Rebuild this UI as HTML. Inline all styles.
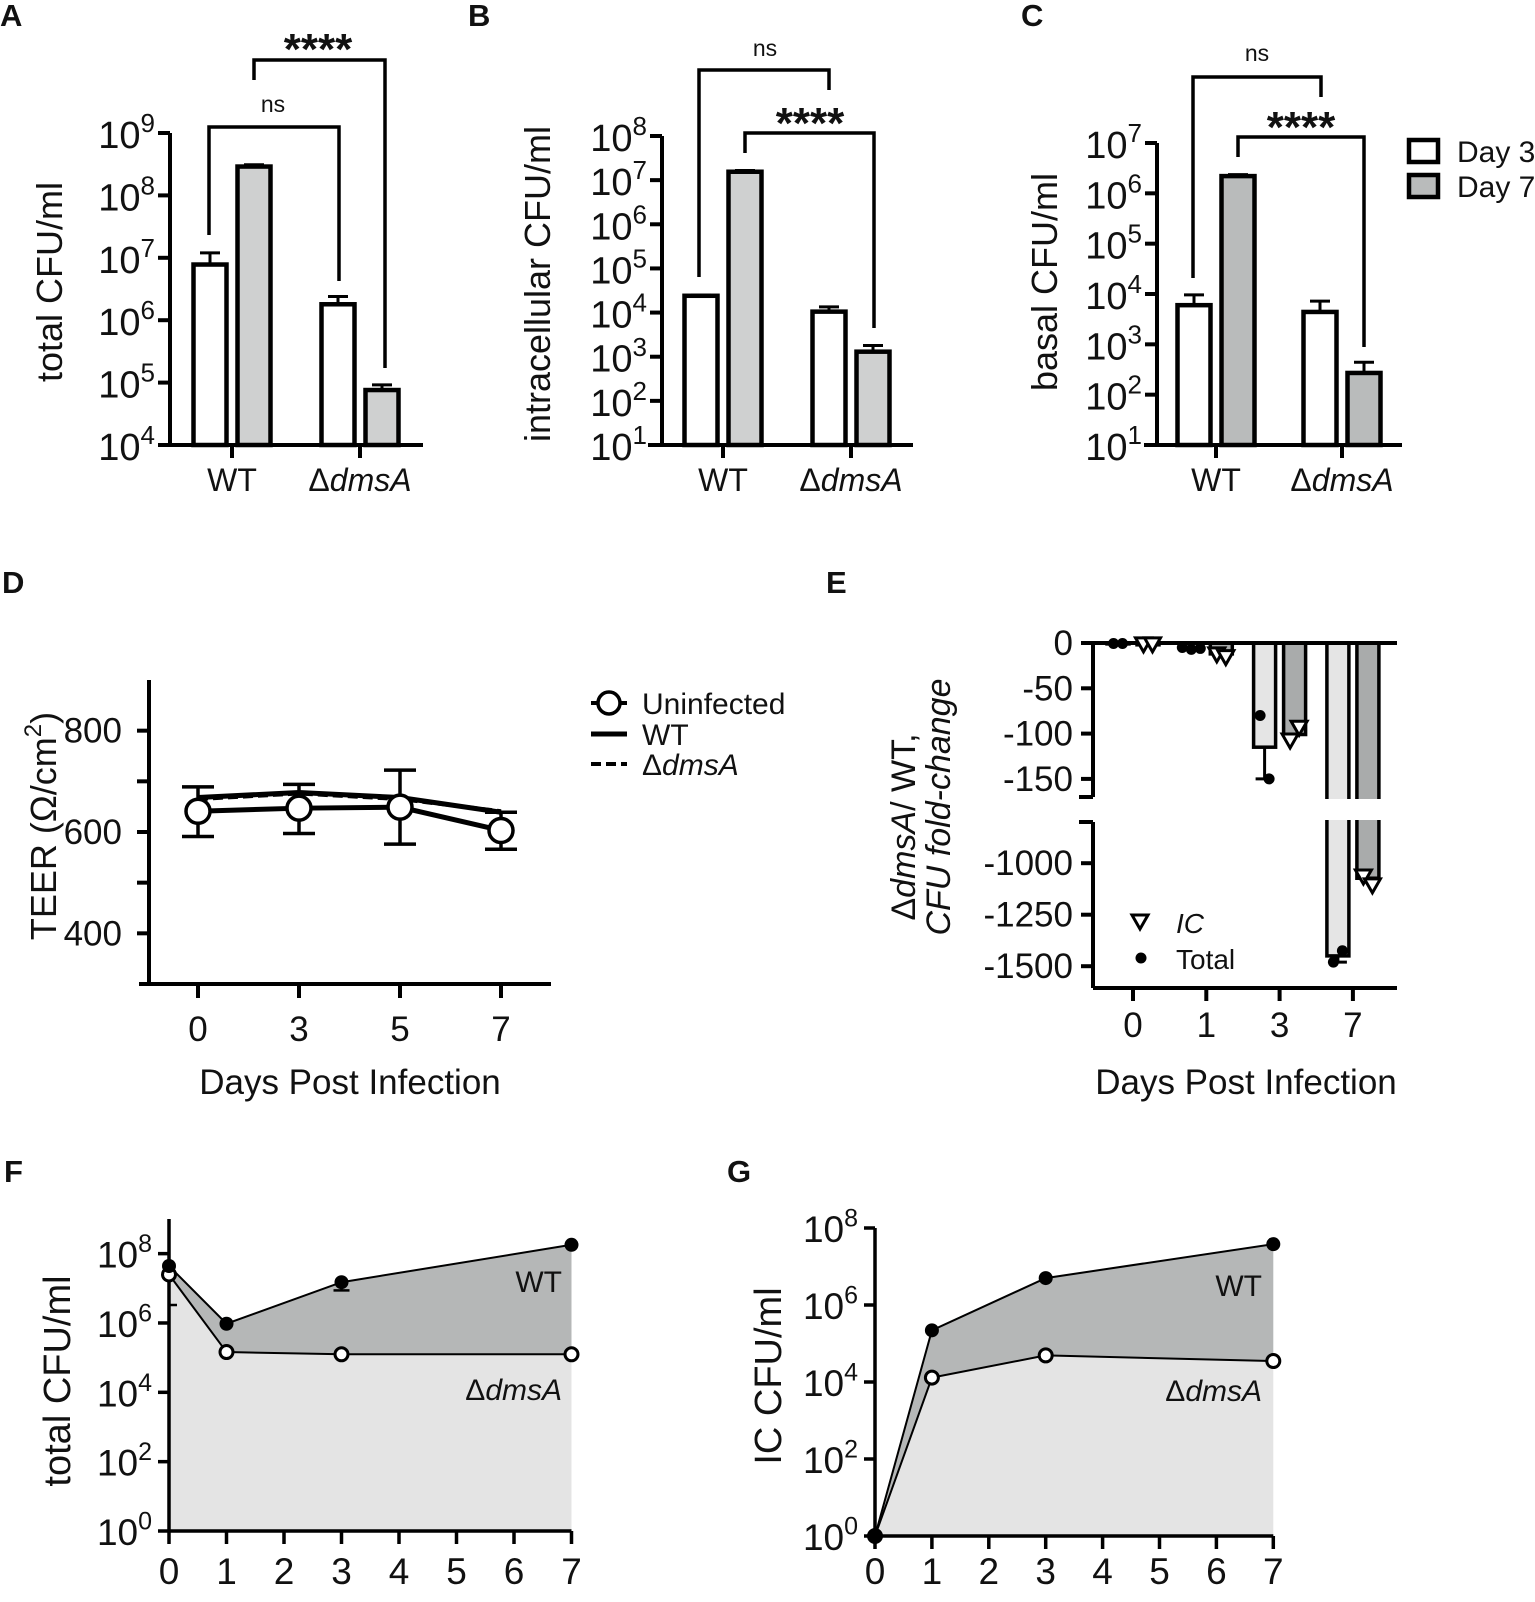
<!DOCTYPE html>
<html><head><meta charset="utf-8">
<style>
body{margin:0;background:#fff}
svg{display:block;font-family:"Liberation Sans",Arial,sans-serif}
</style></head>
<body>
<svg id="fig" width="1535" height="1602" viewBox="0 0 1535 1602"></svg>
<script>
// ---------- DATA ----------
const barGroups = ["WT", "ΔdmsA"];
const aDay3 = [7.8e6, 1.8e6];
const aDay7 = [2.9e8, 7.6e4];
const aDay3Err = [1.2e7, 2.4e6];
const aDay7Err = [3.1e8, 9.2e4];
const bDay3 = [2.4e4, 1.05e4];
const bDay7 = [1.55e7, 1.3e3];
const bDay3Err = [2.5e4, 1.35e4];
const bDay7Err = [1.65e7, 1.8e3];
const cDay3 = [6.0e3, 4.4e3];
const cDay7 = [2.2e6, 2.7e2];
const cDay3Err = [9.6e3, 7.2e3];
const cDay7Err = [2.35e6, 4.4e2];
const logTicksA = [4, 5, 6, 7, 8, 9];
const logTicksB = [1, 2, 3, 4, 5, 6, 7, 8];
const logTicksC = [1, 2, 3, 4, 5, 6, 7];

const dDays = ["0", "3", "5", "7"];
const dUninf = [641, 647, 649, 603];
const dUninfHi = [689, 694, 722, 639];
const dUninfLo = [591, 597, 576, 566];
const dWT = [668, 678, 668, 639];
const dDms = [665, 676, 665, 641];
const dTicks = [400, 600, 800];
const dMinorTicks = [500, 700];

const eDays = ["0", "1", "3", "7"];
const eTotalMean = [-1, -6, -115, -1450];
const eICMean = [-2, -12, -101, -1073];
const eTotalPts = [[-0.5, -0.5], [-5, -7, -6], [-80, -150], [-1480, -1425]];
const eICPts = [[-1, -1], [-12, -15], [-107, -93], [-1062, -1105]];
const eTotalErrLo = [null, null, -150, -1480];
const eUpperTicks = [0, -50, -100, -150];
const eLowerTicks = [-1000, -1250, -1500];

const fgDays = [0, 1, 3, 7];
const fgAxisDays = [0, 1, 2, 3, 4, 5, 6, 7];
const fWT = [4.4e7, 9.5e5, 1.5e7, 1.8e8];
const fDms = [2.5e7, 1.45e5, 1.25e5, 1.25e5];
const fWTErrLo = [null, null, 8.7e6, null];
const fDmsErrLo = [3.3e6, null, null, null];
const gWT = [1, 2.2e5, 5.0e6, 3.8e7];
const gDms = [1, 1.3e4, 4.9e4, 3.5e4];
const fgTicks = [0, 2, 4, 6, 8];

// ---------- HELPERS ----------
const NS = "http://www.w3.org/2000/svg";
const svg = document.getElementById("fig");
function el(tag, attrs, name, parent) {
  const e = document.createElementNS(NS, tag);
  for (const k in attrs) e.setAttribute(k, attrs[k]);
  
  
  (parent || svg).appendChild(e);
  return e;
}
function line(x1, y1, x2, y2, w, name, extra) {
  const a = {x1, y1, x2, y2, stroke: "#000", "stroke-width": w};
  if (extra) for (const k in extra) a[k] = extra[k];
  return el("line", a, name);
}
function txt(x, y, parts, o, name) {
  o = o || {};
  const fs = o.fs || 34;
  const a = {x, y, "font-size": fs, "text-anchor": o.a || "middle", fill: "#111"};
  if (o.w) a["font-weight"] = o.w;
  if (o.it) a["font-style"] = "italic";
  if (o.rot) a.transform = "rotate(-90 " + x + " " + y + ")";
  const t = el("text", a, name);
  if (typeof parts === "string") parts = [[parts]];
  let shifted = false;
  parts.forEach(p => {
    const ts = document.createElementNS(NS, "tspan");
    ts.textContent = p[0];
    if (p[1] === "i") ts.setAttribute("font-style", "italic");
    if (p[1] === "n") ts.setAttribute("font-style", "normal");
    if (p[1] === "sup") {
      ts.setAttribute("font-size", Math.round(fs * 0.68));
      ts.setAttribute("dy", -0.42 * fs);
      shifted = true;
    } else if (shifted) {
      ts.setAttribute("dy", 0.42 * fs);
      shifted = false;
    }
    t.appendChild(ts);
  });
  return t;
}
function logY(v, ax) { return ax.yBot - (Math.log10(v) - ax.minE) * (ax.yBot - ax.yTop) / (ax.maxE - ax.minE); }

// ---------- BAR PANELS A, B, C ----------
function barPanel(ax, ticks, d3, d7, e3, e7, fill7, label, br) {
  const barW = 33, off = 22;
  line(ax.x, ax.yTop, ax.x, ax.yBot, 4, ax.id + "-y-axis");
  line(ax.xStart, ax.yBot, ax.xEnd, ax.yBot, 4, ax.id + "-x-axis");
  ticks.forEach(e => {
    const y = logY(Math.pow(10, e), ax);
    line(ax.x - 12, y, ax.x, y, 4, ax.id + "-y-tick");
    txt(ax.x - 15, y + 15, [["10"], [String(e), "sup"]], {a: "end", fs: 38}, ax.id + "-y-tick-label");
  });
  barGroups.forEach((g, i) => {
    const cx = ax.cat0 + i * ax.catGap;
    line(cx, ax.yBot, cx, ax.yBot + 13, 4, ax.id + "-x-tick");
    const isD = g.startsWith("Δ");
    txt(cx, ax.yBot + 46, isD ? [["Δ", "n"], ["dmsA", "i"]] : g, {fs: 32}, ax.id + "-x-label");
    [[d3, e3, "#fff", -off, "day3"], [d7, e7, fill7, off, "day7"]].forEach(s => {
      const v = s[0][i], bx = cx + s[3];
      const yv = logY(v, ax), ye = logY(s[1][i], ax);
      line(bx, yv, bx, ye, 3, ax.id + "-error-bar-" + s[4]);
      line(bx - 10, ye, bx + 10, ye, 3, ax.id + "-error-cap-" + s[4]);
      el("rect", {x: bx - barW / 2, y: yv, width: barW, height: ax.yBot - yv, fill: s[2], stroke: "#000", "stroke-width": 4.5}, ax.id + "-bar-" + s[4]);
    });
  });
  txt(ax.labX, ax.labY, label, {fs: 36, rot: true}, ax.id + "-y-axis-title");
  br.forEach(b => {
    el("path", {d: `M${b.x1},${b.l1}V${b.y}H${b.x2}V${b.l2}`, fill: "none", stroke: "#000", "stroke-width": 3.5}, ax.id + "-significance-bracket");
    if (b.t === "ns") txt((b.tx), b.ty, "ns", {fs: 23}, ax.id + "-ns-label");
    else txt(b.tx, b.ty, "****", {fs: 44, w: "bold"}, ax.id + "-significance-stars");
  });
}
barPanel({id: "a", x: 170, yTop: 133, yBot: 445, minE: 4, maxE: 9, xStart: 158, xEnd: 423, cat0: 232, catGap: 128, labX: 62, labY: 282},
  logTicksA, aDay3, aDay7, aDay3Err, aDay7Err, "#cfd0d0", "total CFU/ml",
  [{x1: 209, x2: 339, y: 127, l1: 235, l2: 281, t: "ns", tx: 273, ty: 112},
   {x1: 254, x2: 385, y: 60, l1: 80, l2: 368, t: "s", tx: 318, ty: 64}]);
barPanel({id: "b", x: 662, yTop: 136, yBot: 445, minE: 1, maxE: 8, xStart: 648, xEnd: 913, cat0: 723, catGap: 128, labX: 550, labY: 284},
  logTicksB, bDay3, bDay7, bDay3Err, bDay7Err, "#cfd0d0", "intracellular CFU/ml",
  [{x1: 699, x2: 829, y: 70, l1: 277, l2: 90, t: "ns", tx: 765, ty: 56},
   {x1: 745, x2: 874, y: 133, l1: 153, l2: 328, t: "s", tx: 810, ty: 138}]);
barPanel({id: "c", x: 1157, yTop: 143, yBot: 445, minE: 1, maxE: 7, xStart: 1144, xEnd: 1402, cat0: 1216, catGap: 126, labX: 1057, labY: 282},
  logTicksC, cDay3, cDay7, cDay3Err, cDay7Err, "#b9bbbb", "basal CFU/ml",
  [{x1: 1193, x2: 1321, y: 77, l1: 278, l2: 97, t: "ns", tx: 1257, ty: 61},
   {x1: 1238, x2: 1364, y: 137, l1: 157, l2: 347, t: "s", tx: 1301, ty: 142}]);
// legend C
el("rect", {x: 1409, y: 140, width: 29, height: 22, fill: "#fff", stroke: "#000", "stroke-width": 4.5}, "legend-day3-swatch");
el("rect", {x: 1409, y: 175, width: 29, height: 22, fill: "#b9bbbb", stroke: "#000", "stroke-width": 4.5}, "legend-day7-swatch");
txt(1457, 162, "Day 3", {fs: 30, a: "start"}, "legend-day3-label");
txt(1457, 197, "Day 7", {fs: 30, a: "start"}, "legend-day7-label");

// panel letters
[["A", 0, 26], ["B", 468, 26], ["C", 1021, 26], ["D", 2, 593], ["E", 826, 593], ["F", 4, 1182], ["G", 727, 1182]].forEach(l => {
  txt(l[1], l[2], l[0], {fs: 31, w: "bold", a: "start"}, "panel-label-" + l[0].toLowerCase());
});

// ---------- PANEL D ----------
const D = {x: 149, yTop: 680, yBot: 984, vMin: 300, vMax: 900, xEnd: 551, cat0: 198, gap: 101};
function dY(v) { return D.yBot - (v - D.vMin) * (D.yBot - D.yTop) / (D.vMax - D.vMin); }
function dX(i) { return D.cat0 + i * D.gap; }
line(D.x, D.yTop, D.x, D.yBot, 4, "d-y-axis");
line(D.x - 10, D.yBot, D.xEnd, D.yBot, 4, "d-x-axis");
dTicks.forEach(v => {
  line(D.x - 12, dY(v), D.x, dY(v), 4, "d-y-tick");
  txt(D.x - 27, dY(v) + 12, String(v), {fs: 35, a: "end"}, "d-y-tick-label");
});
dMinorTicks.forEach(v => { line(D.x - 12, dY(v), D.x, dY(v), 4, "d-y-minor-tick"); });
dDays.forEach((d, i) => {
  line(dX(i), D.yBot, dX(i), D.yBot + 14, 4, "d-x-tick");
  txt(dX(i), 1041, d, {fs: 35}, "d-x-tick-label");
});
txt(350, 1094, "Days Post Infection", {fs: 35}, "d-x-axis-title");
txt(56, 826, [["TEER (Ω/cm"], ["2", "sup"], [")"]], {fs: 36, rot: true}, "d-y-axis-title");
function poly(arr) { return arr.map((v, i) => dX(i) + "," + dY(v)).join(" "); }
el("polyline", {points: poly(dWT), fill: "none", stroke: "#000", "stroke-width": 5}, "d-wt-line");
el("polyline", {points: poly(dDms), fill: "none", stroke: "#000", "stroke-width": 4, "stroke-dasharray": "10,5"}, "d-dmsa-line");
dUninf.forEach((v, i) => {
  line(dX(i), dY(dUninfLo[i]), dX(i), dY(dUninfHi[i]), 3.5, "d-uninfected-error-bar");
  line(dX(i) - 16, dY(dUninfLo[i]), dX(i) + 16, dY(dUninfLo[i]), 3.5, "d-uninfected-error-cap");
  line(dX(i) - 16, dY(dUninfHi[i]), dX(i) + 16, dY(dUninfHi[i]), 3.5, "d-uninfected-error-cap");
});
el("polyline", {points: poly(dUninf), fill: "none", stroke: "#000", "stroke-width": 5}, "d-uninfected-line");
dUninf.forEach((v, i) => {
  el("circle", {cx: dX(i), cy: dY(v), r: 12, fill: "#fff", stroke: "#000", "stroke-width": 3.5}, "d-uninfected-point");
});
el("circle", {cx: 609, cy: 703, r: 11, fill: "#fff", stroke: "#000", "stroke-width": 3.5}, "d-legend-uninfected-marker");
line(591, 703, 598, 703, 4, "d-legend-uninfected-line");
line(620, 703, 627, 703, 4, "d-legend-uninfected-line");
line(591, 734, 627, 734, 5, "d-legend-wt-line");
line(591, 764, 627, 764, 4, "d-legend-dmsa-line", {"stroke-dasharray": "10,5"});
txt(642, 714, "Uninfected", {fs: 30, a: "start"}, "d-legend-uninfected-label");
txt(642, 745, "WT", {fs: 30, a: "start"}, "d-legend-wt-label");
txt(642, 775, [["Δ", "n"], ["dmsA", "i"]], {fs: 30, a: "start"}, "d-legend-dmsa-label");

// ---------- PANEL E ----------
const E = {x: 1093, y0: 643, upK: 45.3 / 50, upEnd: 797, loStart: 822, loV: -800, loK: 51.5 / 250, yBot: 988, xEnd: 1397, cat0: 1133, gap: 73.3};
function eY(v) { return v >= -175 ? E.y0 - v * E.upK : E.loStart + (E.loV - v) * E.loK; }
function eX(i) { return E.cat0 + i * E.gap; }
eDays.forEach((d, i) => {
  [[eTotalMean, "#e5e5e5", -15, "total"], [eICMean, "#a9abab", 15, "ic"]].forEach(s => {
    const v = s[0][i], bx = eX(i) + s[2];
    el("rect", {x: bx - 11, y: E.y0, width: 22, height: Math.max(0.5, eY(v) - E.y0), fill: s[1], stroke: "#000", "stroke-width": 3.5}, "e-bar-" + s[3]);
  });
  if (eTotalErrLo[i] !== null) {
    const bx = eX(i) - 15;
    line(bx, eY(eTotalMean[i]), bx, eY(eTotalErrLo[i]), 3, "e-error-bar");
    line(bx - 9, eY(eTotalErrLo[i]), bx + 9, eY(eTotalErrLo[i]), 3, "e-error-cap");
  }
});
el("rect", {x: 1098, y: E.upEnd + 2, width: 310, height: E.loStart - E.upEnd - 4, fill: "#fff"}, "e-axis-break-gap");
line(E.x - 12, E.y0, E.xEnd, E.y0, 4, "e-zero-line");
line(E.x, E.y0, E.x, E.upEnd, 4, "e-y-axis-upper");
line(E.x - 14, E.upEnd, E.x, E.upEnd, 4, "e-axis-break-mark");
line(E.x, E.loStart, E.x, E.yBot, 4, "e-y-axis-lower");
line(E.x - 14, E.loStart, E.x, E.loStart, 4, "e-axis-break-mark");
line(E.x, E.yBot, E.xEnd, E.yBot, 4, "e-x-axis");
eUpperTicks.concat(eLowerTicks).forEach(v => {
  line(E.x - 12, eY(v), E.x, eY(v), 4, "e-y-tick");
  txt(E.x - 20, eY(v) + 12, String(v), {fs: 35, a: "end"}, "e-y-tick-label");
});
eDays.forEach((d, i) => {
  line(eX(i), E.yBot, eX(i), E.yBot + 13, 4, "e-x-tick");
  txt(eX(i), 1037, d, {fs: 35}, "e-x-tick-label");
});
function tri(cx, cy, name) {
  el("path", {d: `M${cx - 8},${cy - 6}H${cx + 8}L${cx},${cy + 8}Z`, fill: "#fff", stroke: "#000", "stroke-width": 3}, name);
}
eDays.forEach((d, i) => {
  eTotalPts[i].forEach((v, j, a) => {
    el("circle", {cx: eX(i) - 15 + (j - (a.length - 1) / 2) * 9, cy: eY(v), r: 5.5, fill: "#000"}, "e-total-point");
  });
  eICPts[i].forEach((v, j, a) => {
    tri(eX(i) + 15 + (j - (a.length - 1) / 2) * 9, eY(v), "e-ic-point");
  });
});
tri(1140, 921, "e-legend-ic-marker");
el("circle", {cx: 1141, cy: 958, r: 5.5, fill: "#000"}, "e-legend-total-marker");
txt(1176, 933, "IC", {fs: 28, a: "start", it: true}, "e-legend-ic-label");
txt(1176, 969, "Total", {fs: 28, a: "start"}, "e-legend-total-label");
txt(1246, 1094, "Days Post Infection", {fs: 35}, "e-x-axis-title");
txt(915, 827, [["Δ", "n"], ["dmsA", "i"], ["/ WT,", "n"]], {fs: 34, rot: true}, "e-y-axis-title-line1");
txt(950, 807, "CFU fold-change", {fs: 34, rot: true, it: true}, "e-y-axis-title-line2");

// ---------- PANELS F, G ----------
function areaPanel(ax, wt, dms, wtLo, dmsLo, label) {
  const X = d => ax.x + d * ax.day;
  const Y = v => ax.yBot - Math.log10(v) * ax.dec;
  const wtPts = fgDays.map((d, i) => X(d) + "," + Y(wt[i]));
  const dmPts = fgDays.map((d, i) => X(d) + "," + Y(dms[i]));
  el("polygon", {points: dmPts.join(" ") + ` ${X(7)},${ax.yBot} ${X(0)},${ax.yBot}`, fill: "#e4e4e4"}, ax.id + "-dmsa-area");
  el("polygon", {points: wtPts.join(" ") + " " + dmPts.slice().reverse().join(" "), fill: "#b5b7b7"}, ax.id + "-wt-area");
  line(ax.x, ax.yTop, ax.x, ax.yBot, 3.5, ax.id + "-y-axis");
  line(ax.x, ax.yBot, X(7), ax.yBot, 3.5, ax.id + "-x-axis");
  fgTicks.forEach(e => {
    const y = ax.yBot - e * ax.dec;
    line(ax.x - 11, y, ax.x, y, 3.5, ax.id + "-y-tick");
    txt(ax.x - 17, y + 14, [["10"], [String(e), "sup"]], {fs: 37, a: "end"}, ax.id + "-y-tick-label");
  });
  fgAxisDays.forEach(d => {
    line(X(d), ax.yBot, X(d), ax.yBot + 13, 3.5, ax.id + "-x-tick");
    txt(X(d), 1584, String(d), {fs: 37}, ax.id + "-x-tick-label");
  });
  el("polyline", {points: wtPts.join(" "), fill: "none", stroke: "#000", "stroke-width": 2}, ax.id + "-wt-line");
  el("polyline", {points: dmPts.join(" "), fill: "none", stroke: "#000", "stroke-width": 2}, ax.id + "-dmsa-line");
  fgDays.forEach((d, i) => {
    if (wtLo && wtLo[i] !== null) {
      line(X(d), Y(wt[i]), X(d), Y(wtLo[i]), 2.5, ax.id + "-wt-error-bar");
      line(X(d) - 8, Y(wtLo[i]), X(d) + 8, Y(wtLo[i]), 2.5, ax.id + "-wt-error-cap");
    }
    if (dmsLo && dmsLo[i] !== null) {
      line(X(d), Y(dms[i]), X(d), Y(dmsLo[i]), 2.5, ax.id + "-dmsa-error-bar");
      line(X(d), Y(dmsLo[i]), X(d) + 8, Y(dmsLo[i]), 2.5, ax.id + "-dmsa-error-cap");
    }
  });
  fgDays.forEach((d, i) => {
    el("circle", {cx: X(d), cy: Y(dms[i]), r: 6.5, fill: "#fff", stroke: "#000", "stroke-width": 3}, ax.id + "-dmsa-point");
  });
  fgDays.forEach((d, i) => {
    el("circle", {cx: X(d), cy: Y(wt[i]), r: 7, fill: "#000"}, ax.id + "-wt-point");
  });
  txt(ax.lblX, ax.wtLblY, "WT", {fs: 30, a: "end"}, ax.id + "-wt-label");
  txt(ax.lblX, ax.dmLblY, [["Δ", "n"], ["dmsA", "i"]], {fs: 30, a: "end"}, ax.id + "-dmsa-label");
  txt(ax.labX, ax.labY, label, {fs: 38, rot: true}, ax.id + "-y-axis-title");
}
areaPanel({id: "f", x: 169, day: 57.5, yBot: 1531, yTop: 1219, dec: 34.67, lblX: 562, wtLblY: 1292, dmLblY: 1400, labX: 70, labY: 1381},
  fWT, fDms, fWTErrLo, fDmsErrLo, "total CFU/ml");
areaPanel({id: "g", x: 875, day: 56.9, yBot: 1536, yTop: 1228, dec: 38.5, lblX: 1262, wtLblY: 1296, dmLblY: 1401, labX: 781, labY: 1376},
  gWT, gDms, null, null, "IC CFU/ml");
</script>
</body></html>
